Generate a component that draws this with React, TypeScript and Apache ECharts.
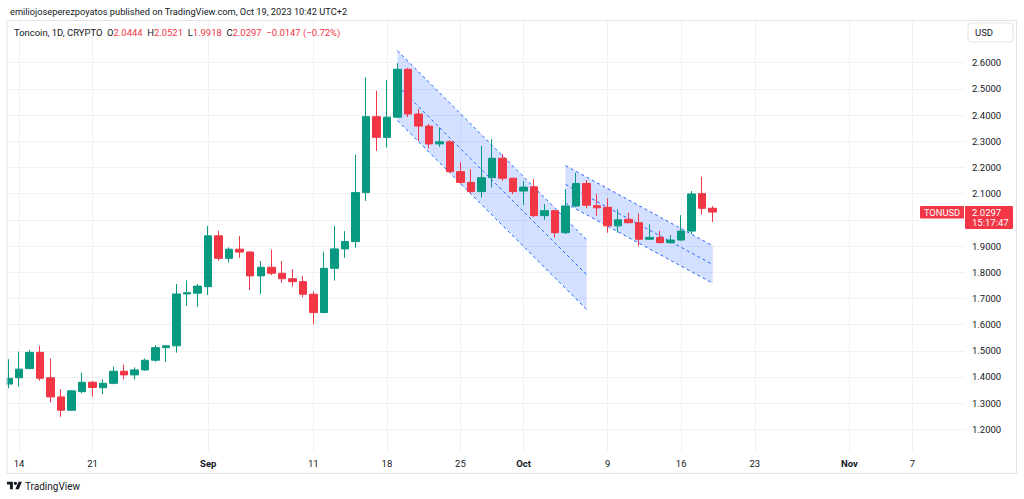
import React, { useEffect, useRef } from "react";
import * as echarts from "echarts";

// ---------- data ----------
const dates = [
  "2023-08-13","2023-08-14","2023-08-15","2023-08-16","2023-08-17","2023-08-18","2023-08-19","2023-08-20",
  "2023-08-21","2023-08-22","2023-08-23","2023-08-24","2023-08-25","2023-08-26","2023-08-27","2023-08-28",
  "2023-08-29","2023-08-30","2023-08-31",
  "2023-09-01","2023-09-02","2023-09-03","2023-09-04","2023-09-05","2023-09-06","2023-09-07","2023-09-08",
  "2023-09-09","2023-09-10","2023-09-11","2023-09-12","2023-09-13","2023-09-14","2023-09-15","2023-09-16",
  "2023-09-17","2023-09-18","2023-09-19","2023-09-20","2023-09-21","2023-09-22","2023-09-23","2023-09-24",
  "2023-09-25","2023-09-26","2023-09-27","2023-09-28","2023-09-29","2023-09-30",
  "2023-10-01","2023-10-02","2023-10-03","2023-10-04","2023-10-05","2023-10-06","2023-10-07","2023-10-08",
  "2023-10-09","2023-10-10","2023-10-11","2023-10-12","2023-10-13","2023-10-14","2023-10-15","2023-10-16",
  "2023-10-17","2023-10-18","2023-10-19",
];

const opens = [
  1.373, 1.397, 1.432, 1.494, 1.397, 1.324, 1.273, 1.344, 1.380, 1.359, 1.376, 1.422, 1.408, 1.427, 1.464, 1.512,
  1.519, 1.717, 1.720,
  1.745, 1.939, 1.853, 1.888, 1.877, 1.786, 1.819, 1.796, 1.775, 1.764, 1.716, 1.646, 1.815, 1.889, 1.917, 2.104,
  2.394, 2.315, 2.392, 2.575, 2.404, 2.358, 2.290, 2.298, 2.184, 2.143, 2.108, 2.161, 2.235, 2.159,
  2.110, 2.126, 2.016, 2.035, 1.951, 2.053, 2.139, 2.054, 2.048, 1.977, 2.002, 1.989, 1.926, 1.933, 1.913, 1.923,
  1.957, 2.100, 2.0444,
];

const closes = [
  1.395, 1.430, 1.494, 1.395, 1.324, 1.273, 1.347, 1.380, 1.360, 1.376, 1.422, 1.408, 1.427, 1.464, 1.512, 1.519,
  1.717, 1.722, 1.747,
  1.939, 1.853, 1.888, 1.877, 1.786, 1.819, 1.796, 1.775, 1.764, 1.716, 1.646, 1.815, 1.889, 1.917, 2.104, 2.394,
  2.315, 2.392, 2.575, 2.404, 2.358, 2.290, 2.298, 2.184, 2.143, 2.108, 2.161, 2.235, 2.159, 2.108,
  2.125, 2.016, 2.035, 1.951, 2.053, 2.139, 2.056, 2.046, 1.977, 2.000, 1.989, 1.926, 1.933, 1.913, 1.923, 1.957,
  2.099, 2.044, 2.0297,
];

const lows = [
  1.357, 1.363, 1.430, 1.386, 1.303, 1.248, 1.272, 1.338, 1.325, 1.334, 1.372, 1.391, 1.391, 1.423, 1.458, 1.458,
  1.493, 1.672, 1.668,
  1.713, 1.844, 1.837, 1.855, 1.732, 1.717, 1.789, 1.760, 1.745, 1.704, 1.602, 1.645, 1.768, 1.855, 1.894, 2.072,
  2.263, 2.276, 2.390, 2.392, 2.301, 2.273, 2.279, 2.180, 2.136, 2.101, 2.085, 2.124, 2.149, 2.098,
  2.057, 2.010, 2.000, 1.933, 1.946, 2.048, 2.044, 2.015, 1.951, 1.951, 1.987, 1.900, 1.923, 1.910, 1.908, 1.920,
  1.946, 2.021, 1.9918,
];

const highs = [
  1.468, 1.497, 1.503, 1.519, 1.471, 1.354, 1.350, 1.416, 1.385, 1.391, 1.439, 1.447, 1.437, 1.471, 1.522, 1.522,
  1.755, 1.769, 1.755,
  1.977, 1.958, 1.895, 1.938, 1.881, 1.843, 1.886, 1.843, 1.812, 1.785, 1.726, 1.878, 1.977, 1.957, 2.248, 2.544,
  2.493, 2.534, 2.598, 2.580, 2.423, 2.366, 2.353, 2.305, 2.220, 2.193, 2.282, 2.308, 2.251, 2.160,
  2.148, 2.155, 2.060, 2.037, 2.117, 2.180, 2.152, 2.098, 2.082, 2.041, 2.027, 2.025, 1.983, 1.958, 1.942, 2.018,
  2.110, 2.165, 2.0521,
];

const tickDates = [
  "2023-08-14","2023-08-21","2023-09-01","2023-09-11","2023-09-18","2023-09-25",
  "2023-10-01","2023-10-09","2023-10-16","2023-10-23","2023-11-01","2023-11-07",
];
const tickLabels = ["14","21","Sep","11","18","25","Oct","9","16","23","Nov","7"];
const monthLabels = ["Sep","Oct","Nov"];

// grid levels; the 2.0000 label is hidden behind the last-price tag in the reference
const priceTicks = [1.2, 1.3, 1.4, 1.5, 1.6, 1.7, 1.8, 1.9, 2.0, 2.1, 2.2, 2.3, 2.4, 2.5, 2.6];
const priceLabels = [1.2, 1.3, 1.4, 1.5, 1.6, 1.7, 1.8, 1.9, 2.1, 2.2, 2.3, 2.4, 2.5, 2.6];

// parallel channels: start/end date, upper line start/end price, lower line start/end price
const channelStarts = ["2023-09-19", "2023-10-05"];
const channelEnds = ["2023-10-07", "2023-10-19"];
const channelUpperStart = [2.646, 2.207];
const channelUpperEnd = [1.924, 1.901];
const channelLowerStart = [2.379, 2.063];
const channelLowerEnd = [1.658, 1.758];

const symbolName = "Toncoin, 1D, CRYPTO";
const tickerName = "TONUSD";
const countdown = "15:17:47";
const changeText = "\u22120.0147 (\u22120.72%)";
const headerText = "emiliojoseperezpoyatos published on TradingView.com, Oct 19, 2023 10:42 UTC+2";

// ---------- helpers ----------
const BASE = Date.parse("2023-08-14");
const dayIndex = (s: string) => Math.round((Date.parse(s) - BASE) / 86400000);

const UP = "#089981";
const DOWN = "#F23645";
const TXT = "#131722";
const GRID = "#f0f1f3";
const FONT = "Roboto, 'Liberation Sans', Arial, sans-serif";

const TV_LOGO =
  "M14 22H7V11H0V4h14v18zM28 22h-8l7.5-18h8L28 22zM16 8a4 4 0 1 0 8 0a4 4 0 1 0 -8 0z";

let logoRegistered = false;

export default function App() {
  const ref = useRef<HTMLDivElement>(null);

  useEffect(() => {
    if (!ref.current) return;
    if (!logoRegistered) {
      echarts.graphic.registerShape("tvlogo", echarts.graphic.extendPath(TV_LOGO, {}));
      logoRegistered = true;
    }
    const chart = echarts.init(ref.current, undefined, { renderer: "svg" });

    const candleData = dates.map((d, i) => [dayIndex(d), opens[i], closes[i], lows[i], highs[i]]);
    const channelData = channelStarts.map((s, i) => [
      dayIndex(s),
      dayIndex(channelEnds[i]),
      channelUpperStart[i],
      channelUpperEnd[i],
      channelLowerStart[i],
      channelLowerEnd[i],
    ]);
    const tickDays = tickDates.map(dayIndex);

    const option: any = {
      animation: false,
      grid: {
        left: 7,
        right: 59,
        top: 20.7,
        bottom: 47,
        containLabel: false,
        outerBoundsMode: "none",
      },
      xAxis: {
        type: "value",
        min: -1.142,
        max: 90,
        axisLine: { show: false },
        axisTick: { show: false, customValues: tickDays },
        splitLine: { show: true, lineStyle: { color: GRID, width: 1 } },
        axisLabel: {
          customValues: tickDays,
          margin: 6,
          color: TXT,
          fontSize: 9.5,
          fontFamily: FONT,
          formatter: (v: number) => {
            const i = tickDays.indexOf(Math.round(v));
            const t = i >= 0 ? tickLabels[i] : "";
            return monthLabels.includes(t) ? `{b|${t}}` : t;
          },
          rich: {
            b: { fontWeight: "bold", fontSize: 9.5, color: TXT, fontFamily: FONT },
          },
        },
      },
      yAxis: {
        type: "value",
        position: "right",
        min: 1.1136,
        max: 2.7604,
        scale: true,
        axisLine: { show: false },
        axisTick: { show: false, customValues: priceTicks },
        splitLine: { show: true, lineStyle: { color: GRID, width: 1 } },
        axisLabel: {
          customValues: priceLabels,
          margin: 7,
          color: TXT,
          fontSize: 9.5,
          fontFamily: FONT,
          formatter: (v: number) => v.toFixed(4),
        },
      },
      series: [
        {
          type: "custom",
          z: 1,
          silent: true,
          clip: true,
          data: channelData,
          encode: { x: [0, 1], y: [2, 3, 4, 5] },
          renderItem: (_params: any, api: any) => {
            const d0 = api.value(0), d1 = api.value(1);
            const u0 = api.value(2), u1 = api.value(3);
            const l0 = api.value(4), l1 = api.value(5);
            const pU0 = api.coord([d0, u0]);
            const pU1 = api.coord([d1, u1]);
            const pL0 = api.coord([d0, l0]);
            const pL1 = api.coord([d1, l1]);
            const pM0 = api.coord([d0, (u0 + l0) / 2]);
            const pM1 = api.coord([d1, (u1 + l1) / 2]);
            const lineStyle = { stroke: "#2962FF", lineWidth: 1, lineDash: [3, 3], fill: null };
            return {
              type: "group",
              children: [
                {
                  type: "polygon",
                  shape: { points: [pU0, pU1, pL1, pL0] },
                  style: { fill: "rgba(41,98,255,0.2)", stroke: null },
                },
                { type: "polyline", shape: { points: [pU0, pU1] }, style: lineStyle },
                { type: "polyline", shape: { points: [pM0, pM1] }, style: lineStyle },
                { type: "polyline", shape: { points: [pL0, pL1] }, style: lineStyle },
              ],
            };
          },
        },
        {
          type: "candlestick",
          z: 3,
          barWidth: 8,
          data: candleData,
          encode: { x: 0, y: [1, 2, 3, 4] },
          itemStyle: {
            color: UP,
            color0: DOWN,
            borderColor: UP,
            borderColor0: DOWN,
            borderWidth: 1,
          },
        },
      ],
    };

    chart.setOption(option);

    const lastClose = closes[closes.length - 1];
    const py = chart.convertToPixel({ yAxisIndex: 0 }, lastClose) as number;

    const legendRich = {
      d: { fill: TXT, fontSize: 9.45, fontFamily: FONT },
      r: { fill: DOWN, fontSize: 9.45, fontFamily: FONT },
    };
    const f4 = (v: number) => v.toFixed(4);
    const legendText =
      `{d|${symbolName}  O}{r|${f4(opens[opens.length - 1])}}` +
      `{d|  H}{r|${f4(highs[highs.length - 1])}}` +
      `{d|  L}{r|${f4(lows[lows.length - 1])}}` +
      `{d|  C}{r|${f4(lastClose)}}` +
      `{r|  ${changeText}}`;

    chart.setOption({
      graphic: [
        // cover for the part of the first candle outside the pane
        { type: "rect", z: 50, shape: { x: 0, y: 0, width: 6.5, height: 499 }, style: { fill: "#ffffff" } },
        // pane frame
        {
          type: "rect",
          z: 60,
          shape: { x: 7, y: 20.5, width: 1009.5, height: 453 },
          style: { fill: null, stroke: "#e0e3eb", lineWidth: 1 },
        },
        // header
        {
          type: "text",
          z: 60,
          x: 10,
          y: 11.5,
          style: { text: headerText, fill: TXT, fontSize: 9.25, fontFamily: FONT, verticalAlign: "middle" },
        },
        // legend
        {
          type: "text",
          z: 60,
          x: 14,
          y: 32,
          style: { text: legendText, rich: legendRich, fontSize: 9.45, fontFamily: FONT, verticalAlign: "middle" },
        },
        // USD box
        {
          type: "rect",
          z: 60,
          shape: { x: 968, y: 23, width: 45, height: 19, r: 3 },
          style: { fill: "#ffffff", stroke: "#e0e3eb", lineWidth: 1 },
        },
        {
          type: "text",
          z: 61,
          x: 975,
          y: 32.5,
          style: { text: "USD", fill: TXT, fontSize: 9.5, fontFamily: FONT, verticalAlign: "middle" },
        },
        // ticker tag
        {
          type: "rect",
          z: 60,
          shape: { x: 920, y: py - 6, width: 44, height: 12.5, r: 1 },
          style: { fill: DOWN },
        },
        {
          type: "text",
          z: 61,
          x: 942,
          y: py + 0.3,
          style: {
            text: tickerName, fill: "#ffffff", fontSize: 9.3, fontFamily: FONT,
            align: "center", verticalAlign: "middle", lineHeight: 10,
          },
        },
        // last price tag
        {
          type: "rect",
          z: 60,
          shape: { x: 965, y: py - 6, width: 48, height: 23, r: 1 },
          style: { fill: DOWN },
        },
        {
          type: "text",
          z: 61,
          x: 972,
          y: py + 0.3,
          style: {
            text: f4(lastClose), fill: "#ffffff", fontSize: 9.5, fontFamily: FONT,
            verticalAlign: "middle", lineHeight: 9.5,
          },
        },
        {
          type: "text",
          z: 61,
          x: 972,
          y: py + 10.5,
          style: {
            text: countdown, fill: "#ffffff", fontSize: 9.5, fontFamily: FONT,
            verticalAlign: "middle", lineHeight: 9.5,
          },
        },
        // TradingView logo
        {
          type: "tvlogo",
          z: 60,
          x: 7,
          y: 480,
          scaleX: 0.42,
          scaleY: 0.42,
          style: { fill: TXT },
        },
        {
          type: "text",
          z: 60,
          x: 25,
          y: 486,
          style: { text: "TradingView", fill: TXT, fontSize: 10, fontFamily: FONT, verticalAlign: "middle" },
        },
      ],
    });

    return () => chart.dispose();
  }, []);

  return (
    <div
      ref={ref}
      style={{ position: "absolute", left: 0, top: 0, width: 1024, height: 499, background: "#ffffff" }}
    />
  );
}
